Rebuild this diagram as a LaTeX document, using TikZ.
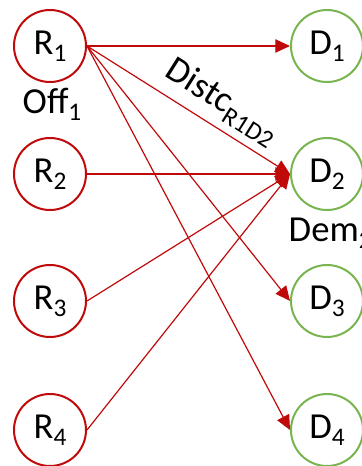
\documentclass[tikz,border=0pt]{standalone}
\usepackage{fontspec}
\setmainfont{Carlito}
\usetikzlibrary{arrows.meta}
\definecolor{relred}{RGB}{192,10,10}
\definecolor{demgreen}{RGB}{120,180,80}
\newcommand{\lowsub}[1]{\raisebox{-0.4ex}{\fontsize{19}{23}\selectfont #1}}

\begin{document}
\begin{tikzpicture}[x=0.75pt,y=0.75pt,
  every node/.style={font=\fontsize{27.5}{33}\selectfont},
  rnode/.style={circle,draw=relred,line width=1.5pt,minimum size=54pt,inner sep=0pt},
  dnode/.style={circle,draw=demgreen,line width=1.5pt,minimum size=54pt,inner sep=0pt},
  link/.style={draw=relred,line width=0.9pt,-{Triangle[length=11pt,width=10pt]}}]
\useasboundingbox (0,0) rectangle (361,-466);

% Relief nodes
\node [rnode] (r1) at (50,-46) {R\lowsub{1}};
\node [rnode] (r2) at (50,-174) {R\lowsub{2}};
\node [rnode] (r3) at (50,-301) {R\lowsub{3}};
\node [rnode] (r4) at (50,-430) {R\lowsub{4}};

% Demand nodes
\node [dnode] (d1) at (327,-46) {D\lowsub{1}};
\node [dnode] (d2) at (327,-174) {D\lowsub{2}};
\node [dnode] (d3) at (327,-301) {D\lowsub{3}};
\node [dnode] (d4) at (327,-430) {D\lowsub{4}};

% Labels
\node (off1) at (52,-104) {Off\lowsub{1}};
\node [anchor=west] (dem2) at (284,-233) {Dem\lowsub{2}};

% Links
\draw [link] (r1.east) -- (d1.west);
\draw [link] (r1.east) -- node [sloped,above,pos=0.6,inner sep=6pt] {Distc\lowsub{R1D2}} (d2.west);
\draw [link] (r1.east) -- (d3.west);
\draw [link] (r1.east) -- (d4.west);
\draw [link] (r2.east) -- (d2.west);
\draw [link] (r3.east) -- (d2.west);
\draw [link] (r4.east) -- (d2.west);

\end{tikzpicture}
\end{document}
